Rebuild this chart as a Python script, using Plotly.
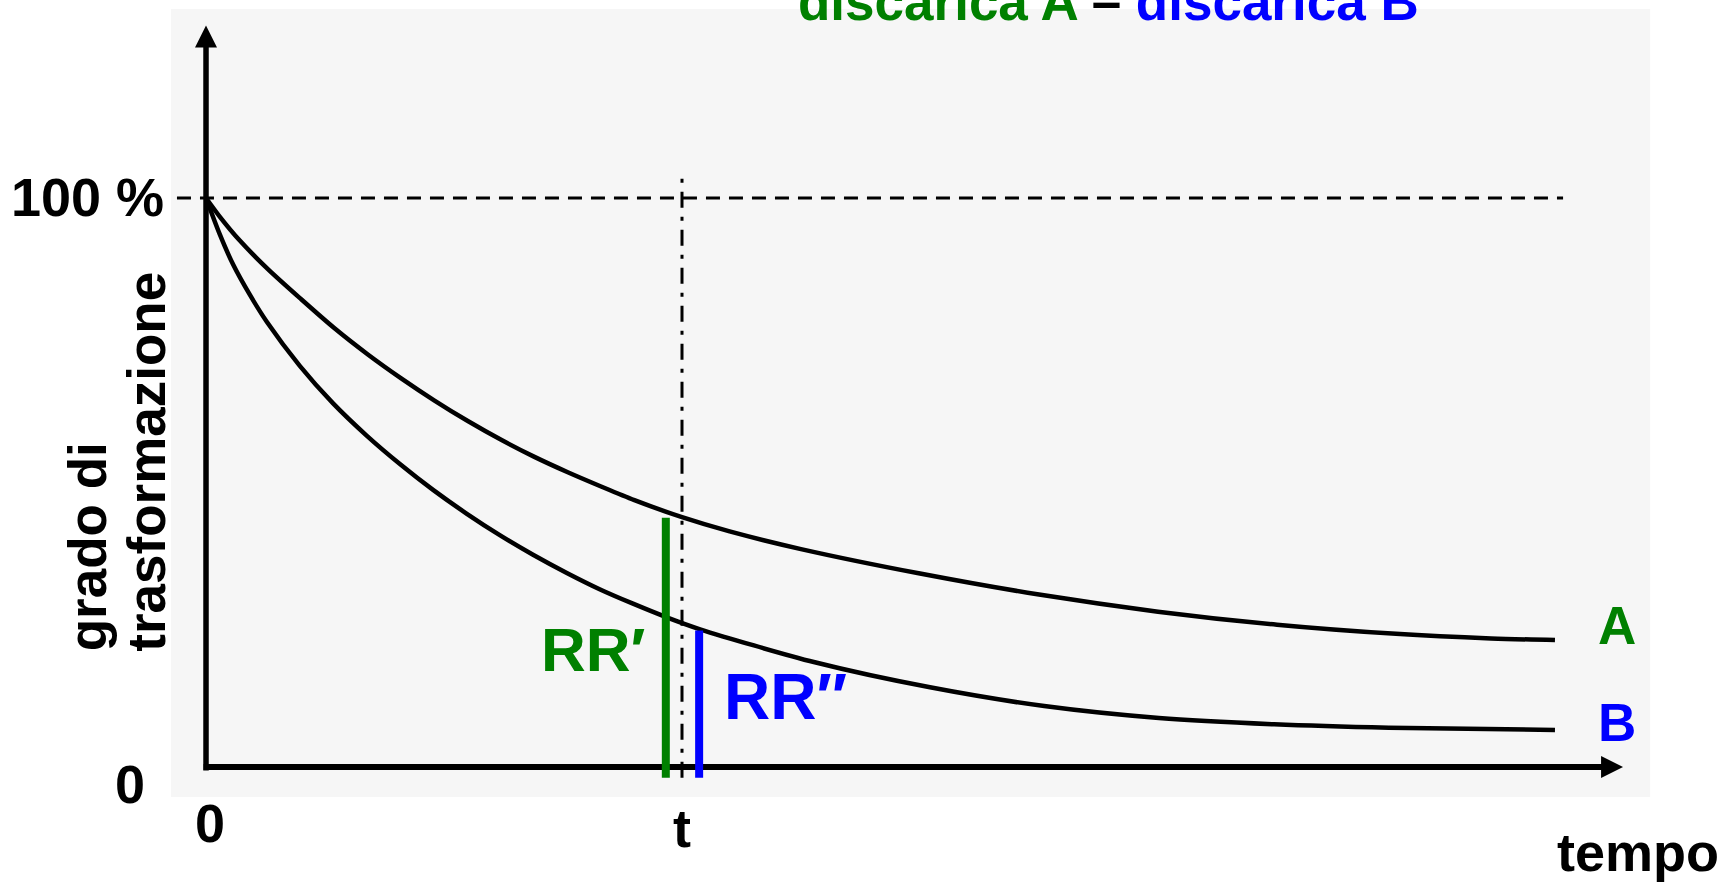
import plotly.graph_objects as go

# ---- data (x: time, t = 1 ; y: grado di trasformazione %) ----
t_a = [0, 0.03, 0.07, 0.13, 0.20, 0.27, 0.34, 0.41, 0.48, 0.55, 0.62, 0.69,
       0.76, 0.83, 0.90, 1.00, 1.10, 1.25, 1.50, 1.75, 2.00, 2.25, 2.50, 2.70, 2.834]
curve_a = [100, 96.6, 92.6, 87.5, 82.2, 77.1, 72.5, 68.3, 64.4, 60.8, 57.5, 54.5,
           51.8, 49.3, 46.9, 43.9, 41.4, 38.3, 34.0, 30.3, 27.3, 25.0, 23.4, 22.6, 22.3]

t_b = [0, 0.029, 0.057, 0.092, 0.128, 0.197, 0.267, 0.338, 0.408, 0.477, 0.548, 0.618,
       0.687, 0.758, 0.828, 0.897, 0.968, 1.038, 1.279, 1.521, 1.761, 2.002, 2.244, 2.485, 2.834]
curve_b = [100, 93.6, 88.3, 83.0, 78.2, 70.5, 63.9, 58.2, 53.2, 48.7, 44.5, 40.7,
           37.3, 34.1, 31.2, 28.7, 26.3, 24.2, 18.4, 14.0, 10.7, 8.6, 7.5, 6.9, 6.5]

t_mark = 1.0
rr1_x, rr1_top = 0.966, 43.8
rr2_x, rr2_top = 1.036, 24.0
bar_bottom = -1.9
full_level = 100

x_tip = 2.977
y_tip = 130.3

title_a = "discarica A"
title_b = "discarica B"
y_title_1 = "grado di"
y_title_2 = "trasformazione"
x_title = "tempo"

GREEN = "#008000"
BLUE = "#0000ff"
FONT = "Liberation Sans"

fig = go.Figure()

# background (scanned paper)
fig.add_shape(type="rect", xref="x", yref="y", x0=-0.0735, x1=3.034, y0=-5.27, y1=133.2,
              fillcolor="#f6f6f6", line_width=0, layer="below")

# 100% dashed line
fig.add_trace(go.Scatter(x=[-0.061, 2.851], y=[full_level, full_level], mode="lines",
                         line=dict(color="black", width=3, dash="14px,9px"), hoverinfo="skip"))
# dash-dot line at t
fig.add_trace(go.Scatter(x=[t_mark, t_mark], y=[bar_bottom, 104.7], mode="lines",
                         line=dict(color="black", width=3, dash="16px,9px,4px,9px"), hoverinfo="skip"))

# curves
fig.add_trace(go.Scatter(x=t_a, y=curve_a, mode="lines",
                         line=dict(color="black", width=4.5, shape="spline", smoothing=0.8), hoverinfo="skip"))
fig.add_trace(go.Scatter(x=t_b, y=curve_b, mode="lines",
                         line=dict(color="black", width=4.5, shape="spline", smoothing=0.8), hoverinfo="skip"))

# axes drawn as arrows
fig.add_trace(go.Scatter(x=[0, 0], y=[-0.6, y_tip - 3], mode="lines",
                         line=dict(color="black", width=5.5), hoverinfo="skip"))
fig.add_trace(go.Scatter(x=[-0.005, x_tip - 0.03], y=[0, 0], mode="lines",
                         line=dict(color="black", width=6), hoverinfo="skip"))
fig.add_trace(go.Scatter(x=[0], y=[y_tip], mode="markers",
                         marker=dict(symbol="arrow-up", size=22, color="black",
                                     line=dict(width=0)), hoverinfo="skip"))
fig.add_trace(go.Scatter(x=[x_tip], y=[0], mode="markers",
                         marker=dict(symbol="arrow-right", size=22, color="black",
                                     line=dict(width=0)), hoverinfo="skip"))

# RR bars
fig.add_trace(go.Scatter(x=[rr1_x, rr1_x], y=[bar_bottom, rr1_top], mode="lines",
                         line=dict(color=GREEN, width=8), hoverinfo="skip"))
fig.add_trace(go.Scatter(x=[rr2_x, rr2_x], y=[bar_bottom, rr2_top], mode="lines",
                         line=dict(color=BLUE, width=8), hoverinfo="skip"))

def ann(text, x, y, size=54, color="black", xanchor="center", yanchor="middle", **kw):
    fig.add_annotation(text=text, x=x, y=y, xref="x", yref="y", showarrow=False,
                       xanchor=xanchor, yanchor=yanchor,
                       font=dict(family=FONT, size=size, color=color, weight="bold"), **kw)

ann(f"<span style='color:{GREEN}'>{title_a}</span> \u2013 <span style='color:{BLUE}'>{title_b}</span>",
    1.895, 129.0, size=53, yanchor="bottom")
ann("100 %", -0.084, 100.2, xanchor="right")
ann("0", -0.124, -3.0, xanchor="right")
ann("0", 0.008, -9.9)
ann("t", t_mark, -10.8)
ann(x_title, 3.008, -15.0)
ann(y_title_1, -0.250, 19.9, size=53, textangle=-90, yanchor="bottom")
ann(y_title_2, -0.124, 19.9, size=53, textangle=-90, yanchor="bottom")
ann("RR\u2032", 0.926, 20.7, size=62, color=GREEN, xanchor="right")
ann("RR\u2033", 1.084, 12.3, size=64, color=BLUE, xanchor="left")
ann("A", 2.964, 24.8, size=53, color=GREEN)
ann("B", 2.964, 7.9, size=53, color=BLUE)

fig.update_layout(
    width=1722, height=883,
    margin=dict(l=0, r=0, t=0, b=0),
    paper_bgcolor="white", plot_bgcolor="white",
    showlegend=False,
    xaxis=dict(range=[-0.4328, 3.1849], visible=False, fixedrange=True),
    yaxis=dict(range=[-20.39, 134.80], visible=False, fixedrange=True),
)

fig.write_html("out.html", config={"displayModeBar": False},
               post_script="document.body.style.margin='0';document.body.style.overflow='hidden';")
